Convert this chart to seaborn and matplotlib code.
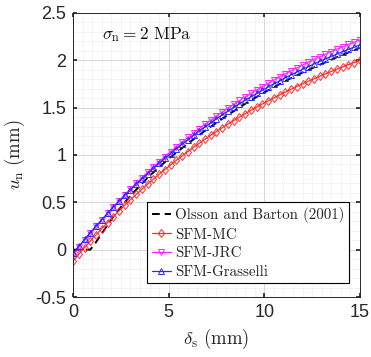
import numpy as np
import pandas as pd
import matplotlib
matplotlib.use("Agg")
import matplotlib.pyplot as plt
import seaborn as sns
from matplotlib.ticker import MultipleLocator

# ---- data ----
# model curves sampled every 0.3 mm, 0 .. 15 mm
delta_s = [round(0.3 * i, 1) for i in range(51)]
sfm_mc = [-0.120, -0.048, 0.022, 0.090, 0.157, 0.223, 0.286, 0.349, 0.409, 0.469,
          0.527, 0.583, 0.638, 0.692, 0.745, 0.796, 0.846, 0.895, 0.943, 0.990,
          1.035, 1.080, 1.123, 1.165, 1.207, 1.247, 1.287, 1.325, 1.363, 1.399,
          1.435, 1.470, 1.504, 1.538, 1.570, 1.602, 1.633, 1.663, 1.693, 1.722,
          1.750, 1.777, 1.804, 1.830, 1.856, 1.881, 1.905, 1.929, 1.953, 1.975,
          1.997]
sfm_jrc = [-0.050, 0.027, 0.102, 0.175, 0.247, 0.316, 0.385, 0.451, 0.516, 0.579,
           0.641, 0.702, 0.761, 0.818, 0.875, 0.930, 0.983, 1.035, 1.087, 1.136,
           1.185, 1.233, 1.279, 1.324, 1.369, 1.412, 1.454, 1.495, 1.535, 1.575,
           1.613, 1.650, 1.687, 1.722, 1.757, 1.791, 1.824, 1.857, 1.888, 1.919,
           1.949, 1.979, 2.008, 2.036, 2.063, 2.090, 2.116, 2.141, 2.166, 2.190,
           2.214]
sfm_grasselli = [-0.040, 0.035, 0.108, 0.179, 0.248, 0.316, 0.382, 0.447, 0.510, 0.572,
                 0.632, 0.691, 0.748, 0.804, 0.859, 0.912, 0.964, 1.015, 1.065, 1.113,
                 1.161, 1.207, 1.252, 1.296, 1.339, 1.381, 1.422, 1.462, 1.501, 1.539,
                 1.577, 1.613, 1.649, 1.683, 1.717, 1.750, 1.782, 1.814, 1.845, 1.875,
                 1.904, 1.932, 1.960, 1.988, 2.014, 2.040, 2.066, 2.090, 2.115, 2.138,
                 2.161]
# experimental curve
olsson_x = [0, 0.5, 0.9, 1.2, 1.5, 2, 2.5, 3, 4, 5, 6, 7, 8, 9, 10, 11, 12, 13, 14, 15]
olsson_y = [0.0, 0.0, 0.0, 0.08, 0.17, 0.32, 0.45, 0.57, 0.78, 0.96, 1.12, 1.27,
            1.41, 1.54, 1.66, 1.77, 1.87, 1.96, 2.05, 2.13]

labels = ["Olsson and Barton (2001)", "SFM-MC", "SFM-JRC", "SFM-Grasselli"]
x_ticks = [0, 5, 10, 15]
y_ticks = [-0.5, 0, 0.5, 1, 1.5, 2, 2.5]
y_ticklabels = ["-0.5", "0", "0.5", "1", "1.5", "2", "2.5"]

# ---- style ----
sns.set_theme(style="white")
plt.rcParams["font.family"] = ["Liberation Sans", "DejaVu Sans"]
plt.rcParams["mathtext.fontset"] = "cm"

fig = plt.figure(figsize=(3.71, 3.57), dpi=100)
ax = fig.add_axes([0.197, 0.168, 0.773, 0.796])

sns.lineplot(x=olsson_x, y=olsson_y, ax=ax, color="black", linestyle=(0, (4, 2.5)),
             linewidth=1.4, label=labels[0])
sns.lineplot(x=delta_s, y=sfm_mc, ax=ax, color="#ff2a2a", linewidth=0.9,
             marker="d", markersize=4.5, markerfacecolor="none",
             markeredgecolor="#ff2a2a", markeredgewidth=0.7, label=labels[1])
sns.lineplot(x=delta_s, y=sfm_jrc, ax=ax, color="#ff22ff", linewidth=0.9,
             marker="v", markersize=4.5, markerfacecolor="none",
             markeredgecolor="#ff22ff", markeredgewidth=0.7, label=labels[2])
sns.lineplot(x=delta_s, y=sfm_grasselli, ax=ax, color="#2a2aff", linewidth=0.9,
             marker="^", markersize=4.5, markerfacecolor="none",
             markeredgecolor="#2a2aff", markeredgewidth=0.7, label=labels[3])

ax.set_xlim(0, 15)
ax.set_ylim(-0.5, 2.5)
ax.set_xticks(x_ticks)
ax.set_xticklabels([str(t) for t in x_ticks])
ax.set_yticks(y_ticks)
ax.set_yticklabels(y_ticklabels)
ax.xaxis.set_minor_locator(MultipleLocator(0.5))
ax.yaxis.set_minor_locator(MultipleLocator(0.1))
ax.grid(which="major", color="#d0d0d0", linewidth=0.6, linestyle="-")
ax.grid(which="minor", color="#e0e0e0", linewidth=0.5, linestyle=(0, (1.5, 1.5)))
ax.set_axisbelow(True)
for s in ax.spines.values():
    s.set_color("#262626")
    s.set_linewidth(0.7)
    s.set_visible(True)
ax.tick_params(axis="both", which="major", direction="in", length=3,
               labelsize=13, color="#262626", labelcolor="#262626", pad=5,
               top=True, right=True, bottom=True, left=True)
ax.tick_params(axis="both", which="minor", length=0)

ax.set_xlabel(r"$\delta_{\mathrm{s}}\ \mathrm{(mm)}$", fontsize=13.5, labelpad=4)
ax.set_ylabel(r"$u_{\mathrm{n}}\ \mathrm{(mm)}$", fontsize=13.5, labelpad=6)

ax.text(1.5, 2.27, r"$\sigma_{\mathrm{n}} = 2\ \mathrm{MPa}$", fontsize=12.5,
        ha="left", va="center", color="#111111")

leg = ax.legend(loc="upper left", bbox_to_anchor=(0.258, 0.333),
                prop={"family": ["cmr10", "DejaVu Serif"], "size": 10.8},
                frameon=True, fancybox=False, framealpha=1, edgecolor="black",
                handlelength=1.3, handletextpad=0.25, borderpad=0.3,
                labelspacing=0.33, borderaxespad=0)
leg.get_frame().set_linewidth(0.8)

fig.savefig("out.png", dpi=100)
